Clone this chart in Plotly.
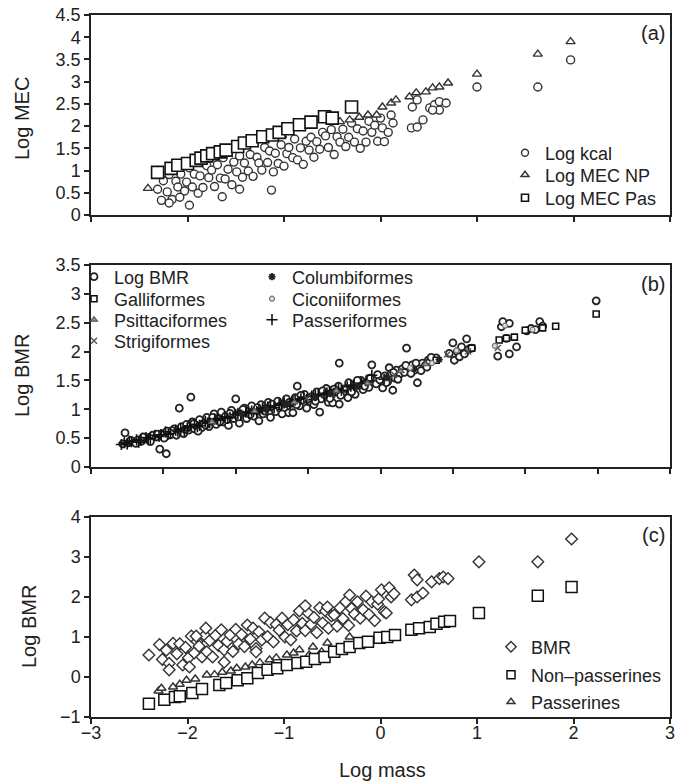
import plotly.graph_objects as go

FONT = "Liberation Sans, Arial, Helvetica, sans-serif"
INK = "#222222"
MARK = "#333333"

# ---------------- panel (a): Log MEC vs log mass ----------------
kcal_x = [-2.31, -2.27, -2.25, -2.21, -2.19, -2.16, -2.12, -2.10, -2.07, -2.03, -2.01, -1.98, -1.95, -1.93,
          -1.89, -1.87, -1.84, -1.80, -1.78, -1.75, -1.72, -1.69, -1.66, -1.63, -1.61, -1.58, -1.54, -1.52,
          -1.49, -1.46, -1.43, -1.41, -1.37, -1.35, -1.32, -1.28, -1.26, -1.23, -1.20, -1.17, -1.15, -1.11,
          -1.09, -1.06, -1.03, -1.00, -0.97, -0.95, -0.91, -0.89, -0.86, -0.83, -0.80, -0.77, -0.74, -0.72,
          -0.69, -0.66, -0.63, -0.60, -0.57, -0.54, -0.51, -0.48, -0.45, -0.42, -0.39, -0.36, -0.33, -0.30,
          -0.27, -0.24, -0.21, -0.18, -0.15, -0.12, -0.09, -0.06, -0.03,
          -2.19, -1.98, -1.64, -1.13, -1.46, -2.08,
          0.00, 0.02, 0.04, 0.08, 0.11, 0.13, 0.32, 0.38, 0.44, 0.33, 0.38, 0.51, 0.56, 0.61, 0.68, 0.61,
          0.54, 1.00, 1.63, 1.97]
kcal_y = [0.58, 0.33, 0.77, 0.52, 0.91, 0.35, 0.76, 0.63, 0.92, 0.54, 0.74, 1.06, 0.63, 0.92,
          0.49, 0.88, 0.62, 1.11, 0.84, 1.01, 0.64, 1.13, 0.83, 1.29, 0.81, 1.03, 0.68, 1.19,
          0.97, 1.33, 0.85, 1.17, 0.99, 1.36, 0.87, 1.30, 1.17, 1.01, 1.52, 1.18, 1.44, 0.97,
          1.39, 1.16, 1.58, 1.10, 1.38, 1.52, 1.29, 1.71, 1.24, 1.51, 1.14, 1.66, 1.46, 1.75,
          1.30, 1.65, 1.48, 1.86, 1.78, 1.52, 1.92, 1.36, 1.76, 1.64, 1.93, 1.54, 1.75, 2.07,
          1.64, 1.94, 1.50, 1.89, 1.64, 2.11, 1.86, 2.02, 1.66,
          0.27, 0.22, 0.41, 0.56, 0.58, 0.40,
          2.18, 1.96, 1.65, 1.86, 2.25, 2.07, 1.96, 1.98, 2.14, 2.43, 2.59, 2.41, 2.48, 2.55, 2.52, 2.36,
          2.36, 2.88, 2.88, 3.49]

mec_np_x = [-2.41, -2.05, -1.52, -1.02, -0.42, -0.32, -0.22, -0.13, -0.04, 0.02, 0.11, 0.16, 0.30, 0.37,
            0.47, 0.54, 0.61, 0.70, 1.00, 1.63, 1.97]
mec_np_y = [0.60, 1.12, 1.47, 1.79, 2.10, 2.14, 2.20, 2.25, 2.25, 2.43, 2.52, 2.59, 2.66, 2.75,
            2.77, 2.86, 2.88, 2.97, 3.17, 3.62, 3.90]

mec_pas_x = [-2.31, -2.17, -2.10, -2.00, -1.91, -1.86, -1.80, -1.74, -1.66, -1.60, -1.48, -1.41, -1.33,
             -1.22, -1.12, -1.05, -0.96, -0.84, -0.72, -0.58, -0.50, -0.30]
mec_pas_y = [0.96, 1.05, 1.12, 1.16, 1.23, 1.28, 1.33, 1.38, 1.42, 1.46, 1.54, 1.62, 1.67,
             1.76, 1.80, 1.86, 1.94, 2.03, 2.09, 2.21, 2.18, 2.43]

# ---------------- panel (b): Log BMR by order ----------------
bmr_x = [-3.56, -3.53, -3.48, -3.40, -3.35, -3.30, -3.25, -3.20, -3.15, -3.10, -3.05, -3.02, -2.96, -2.95,
         -2.90, -2.85, -2.80, -2.78, -2.75, -2.72, -2.68, -2.65, -2.62, -2.60, -2.57, -2.55, -2.50, -2.47,
         -2.44, -2.40, -2.37, -2.34, -2.30, -2.27, -2.24, -2.20, -2.17, -2.14, -2.10, -2.06, -2.03, -2.00,
         -1.98, -1.95, -1.92, -1.88, -1.85, -1.82, -1.78, -1.75, -1.72, -1.68, -1.65, -1.62, -1.58, -1.55,
         -1.52, -1.48, -1.45, -1.42, -1.38, -1.35, -1.33, -1.30, -1.27, -1.24, -1.21, -1.18, -1.15, -1.12,
         -1.08, -1.05, -1.02, -0.98, -0.95, -0.92, -0.88, -0.84, -0.82, -0.78, -0.75, -0.72, -0.68, -0.66,
         -0.62, -0.58, -0.57, -0.57, -0.52, -0.48, -0.45, -0.42, -0.38, -0.35, -0.30, -0.27, -0.24, -0.20,
         -0.16, -0.12, -0.10, -0.06, -0.01, 0.03, 0.06, 0.10, 0.12, 0.15, 0.17, 0.20, 0.22, 0.26, 0.30,
         0.33, 0.36, 0.40, 0.44, 0.47, 0.51, 0.54, 0.58, 0.62, 0.66, 0.68, 0.72, 0.77, 0.95, 1.00, 1.02,
         1.06, 1.09, 1.12, 1.16, 1.19, 1.22, 1.26, 1.62, 1.67, 1.69, 1.74, 1.78, 1.78, 1.88, 2.02, 2.08,
         2.14, 2.20, 2.24, 2.98,
         -3.45, -3.38, -3.28, -3.18, -3.08, -2.99, -2.88, -2.82, -2.70, -2.58, -2.52, -2.42, -2.32, -2.22,
         -2.12, -2.08, -1.96, -1.90, -1.80, -1.70, -1.60, -1.50, -1.40, -1.36, -1.26, -1.16, -1.10, -1.00,
         -0.90, -0.80, -0.70, -0.64, -0.55, -0.44, -0.40, -0.32, -0.22, -0.14, -0.04, 0.08, 0.18, 0.24,
         0.35, 0.42, 0.49, 0.56, 0.64, 0.70]
bmr_y = [0.40, 0.59, 0.42, 0.44, 0.47, 0.45, 0.50, 0.48, 0.55, 0.52, 0.31, 0.58, 0.23, 0.62,
         0.56, 0.66, 0.60, 1.02, 0.70, 0.58, 0.74, 0.64, 1.21, 0.78, 0.66, 0.72, 0.82, 0.68,
         0.76, 0.86, 0.70, 0.80, 0.92, 0.74, 0.84, 0.95, 0.78, 0.88, 0.72, 0.98, 0.84, 1.18,
         0.90, 0.76, 0.94, 1.02, 0.84, 0.96, 1.06, 0.88, 0.98, 0.80, 1.08, 0.92, 1.02, 1.12,
         0.86, 1.04, 0.96, 1.14, 1.00, 1.08, 1.00, 1.18, 0.94, 1.10, 0.94, 1.20, 1.40, 1.06,
         1.16, 1.26, 1.02, 1.14, 1.22, 1.08, 1.30, 0.95, 1.18, 1.26, 1.36, 1.12, 1.24, 1.11,
         1.30, 1.40, 1.80, 1.09, 1.28, 1.36, 1.20, 1.44, 1.32, 1.26, 1.42, 1.50, 1.34, 1.46,
         1.38, 1.77, 1.52, 1.44, 1.51, 1.37, 1.58, 1.48, 1.72, 1.62, 1.33, 1.54, 1.68, 1.60, 1.70,
         1.64, 2.06, 1.74, 1.77, 1.68, 1.46, 1.72, 1.80, 1.76, 1.85, 1.82, 1.88, 1.89, 1.97, 2.15, 1.85,
         2.00, 1.91, 2.08, 1.96, 2.22, 2.04, 2.06, 1.92, 2.43, 2.52, 2.23, 2.49, 1.96, 2.08, 2.36, 2.40,
         2.38, 2.52, 2.44, 2.88,
         0.46, 0.41, 0.52, 0.44, 0.57, 0.50, 0.63, 0.55, 0.65, 0.75, 0.62, 0.73, 0.86, 0.78,
         0.82, 0.93, 0.87, 1.00, 0.91, 1.03, 0.97, 1.09, 1.05, 0.92, 1.12, 1.08, 1.24, 1.18,
         1.14, 1.32, 1.19, 1.35, 1.24, 1.46, 1.30, 1.50, 1.40, 1.54, 1.60, 1.46, 1.64, 1.52,
         1.76, 1.62, 1.80, 1.67, 1.73, 1.90]

galli_x = [0.77, 1.26, 1.64, 1.74, 1.85, 2.00, 2.24, 2.42, 2.98]
galli_y = [1.85, 2.06, 2.20, 2.23, 2.25, 2.37, 2.41, 2.44, 2.65]

psitta_x = [-2.33, -1.74, -1.19, -0.61, -0.18, 0.28, 0.62]
psitta_y = [0.78, 0.97, 1.12, 1.32, 1.45, 1.66, 1.78]

strigi_x = [-1.02, 0.19, 0.92, 1.21, 1.62]
strigi_y = [1.19, 1.60, 1.95, 2.00, 2.06]

columbi_x = [-1.92, -1.58, -1.31, -0.91, -0.69, -0.31, 0.08, 0.46, 0.81]
columbi_y = [0.93, 1.00, 1.09, 1.20, 1.27, 1.40, 1.55, 1.70, 1.86]

ciconi_x = [0.41, 0.71, 1.05, 1.58, 1.72, 2.10]
ciconi_y = [1.72, 1.80, 2.02, 2.10, 2.45, 2.38]

passeri_x = [-3.58, -3.54, -3.50, -3.44, -3.37, -3.31, -3.24, -3.18, -3.12, -3.03, -2.97, -2.90, -2.83,
             -2.76, -2.71, -2.63, -2.57, -2.50, -2.42, -2.36, -2.29, -2.21, -2.15, -2.08, -2.00, -1.93,
             -1.86, -1.78, -1.71, -1.63, -1.56, -1.47, -1.40, -1.33, -1.25, -1.18, -1.10, -1.02, -0.95,
             -0.86, -0.78, -0.70, -0.62, -0.54, -0.46, -0.37, -0.26, -0.12, 0.05,
             -3.47, -3.34, -3.21, -3.06, -2.93, -2.80, -2.67, -2.53, -2.39, -2.25, -2.11, -1.97, -1.82,
             -1.68, -1.52, -1.37, -1.21, -1.06, -0.90, -0.74, -0.58, -0.41, -0.20]
passeri_y = [0.39, 0.42, 0.40, 0.44, 0.47, 0.46, 0.51, 0.49, 0.55, 0.56, 0.61, 0.58, 0.64,
             0.66, 0.63, 0.71, 0.74, 0.72, 0.79, 0.77, 0.83, 0.81, 0.87, 0.86, 0.91, 0.90,
             0.95, 0.97, 0.96, 1.02, 1.04, 1.03, 1.09, 1.11, 1.10, 1.16, 1.18, 1.17, 1.23,
             1.26, 1.25, 1.31, 1.34, 1.33, 1.39, 1.42, 1.45, 1.59, 1.52,
             0.45, 0.43, 0.49, 0.53, 0.57, 0.62, 0.68, 0.70, 0.76, 0.84, 0.84, 0.93, 0.93,
             0.99, 1.06, 1.07, 1.14, 1.21, 1.24, 1.28, 1.36, 1.40, 1.49]

# ---------------- panel (c): Log BMR, passerines vs non-passerines ----------------
bmr_c_x = [-2.40, -2.29, -2.26, -2.22, -2.19, -2.15, -2.11, -2.08, -2.05, -2.02, -1.99, -1.96, -1.93, -1.90,
           -1.88, -1.85, -1.82, -1.80, -1.77, -1.74, -1.71, -1.68, -1.65, -1.62, -1.59, -1.56, -1.53,
           -1.50, -1.47, -1.44, -1.41, -1.38, -1.35, -1.32, -1.29, -1.26, -1.23, -1.20, -1.17, -1.14,
           -1.11, -1.08, -1.05, -1.02, -0.99, -0.96, -0.93, -0.90, -0.87, -0.84, -0.81, -0.78, -0.75,
           -0.72, -0.69, -0.66, -0.63, -0.60, -0.57, -0.54, -0.51, -0.48, -0.45, -0.42, -0.39, -0.36,
           -0.33, -0.30, -0.27, -0.24, -0.21, -0.18, -0.15, -0.12, -0.09, -0.06, -0.03,
           -1.81, -1.91, -1.98, -1.62, -2.19, -1.29, -0.78, -0.55, -0.32,
           0.01, 0.09, 0.04, 0.11, 0.06, -0.02, 0.14, 0.32, 0.35, 0.38, 0.38, 0.44, 0.53, 0.61, 0.65, 0.70,
           1.02, 1.63, 1.98]
bmr_c_y = [0.55, 0.81, 0.44, 0.67, 0.34, 0.84, 0.58, 0.83, 0.30, 0.74, 0.48, 1.02, 0.60, 0.89,
           0.77, 0.50, 1.04, 0.63, 0.91, 0.50, 1.04, 0.79, 1.18, 0.68, 0.89, 1.05, 0.64,
           1.19, 0.83, 1.06, 0.76, 1.30, 0.95, 1.22, 0.71, 1.13, 0.93, 1.47, 1.01, 1.36,
           0.88, 1.31, 1.17, 1.47, 1.00, 1.31, 0.93, 1.43, 1.15, 1.65, 1.34, 1.16, 1.60,
           1.32, 1.49, 1.11, 1.73, 1.35, 1.65, 1.22, 1.53, 1.55, 1.27, 1.73, 1.46, 1.88,
           1.29, 1.71, 1.57, 1.88, 1.47, 1.68, 2.02, 1.56, 1.88, 1.41, 1.82,
           1.22, 1.02, 0.25, 0.37, 0.18, 0.63, 1.78, 1.75, 2.05,
           2.18, 2.23, 1.63, 2.00, 1.60, 1.95, 2.08, 1.93, 2.55, 2.43, 2.00, 2.10, 2.38, 2.46, 2.50, 2.46,
           2.88, 2.88, 3.45]

nonpas_x = [-2.40, -2.24, -2.13, -2.08, -1.95, -1.85, -1.67, -1.60, -1.48, -1.38, -1.27, -1.17, -1.07,
            -0.97, -0.86, -0.77, -0.68, -0.58, -0.48, -0.40, -0.32, -0.22, -0.13, -0.01, 0.07, 0.15,
            0.32, 0.40, 0.51, 0.58, 0.66, 0.72, 1.02, 1.63, 1.98]
nonpas_y = [-0.67, -0.57, -0.50, -0.48, -0.40, -0.30, -0.20, -0.15, -0.08, -0.03, 0.10, 0.18, 0.22,
            0.30, 0.35, 0.38, 0.45, 0.50, 0.63, 0.70, 0.75, 0.85, 0.88, 0.98, 1.00, 1.05,
            1.18, 1.22, 1.25, 1.33, 1.38, 1.40, 1.60, 2.03, 2.25]

pas_x = [-2.30, -2.27, -2.15, -2.08, -2.01, -1.92, -1.80, -1.72, -1.64, -1.55, -1.49, -1.40, -1.33,
         -1.25, -1.15, -1.08, -0.97, -0.90, -0.84, -0.74, -0.70, -0.61, -0.55, -0.32]
pas_y = [-0.35, -0.28, -0.25, -0.18, -0.08, -0.05, 0.05, 0.06, 0.12, 0.15, 0.22, 0.25, 0.30,
         0.36, 0.43, 0.48, 0.55, 0.60, 0.68, 0.55, 0.75, 0.63, 0.85, 1.00]

# ---------------- layout geometry (pixels in the 675 x 782 page) ----------------
W, H = 675, 782
ML, MR, MT, MB = 91, 5, 15, 65
PW, PH = W - ML - MR, H - MT - MB


def fx(px):
    return (px - ML) / PW


def fy(py):
    return (717 - py) / PH


def mk(symbol, size, width=1.4, color=MARK, fill="white"):
    return dict(symbol=symbol, size=size, color=fill, line=dict(color=color, width=width))


def mk_thin(symbol, size, width, color):
    return dict(symbol=symbol, size=size, color=color, line=dict(color=color, width=width))


fig = go.Figure()

# panel (a)
fig.add_trace(go.Scatter(x=kcal_x, y=kcal_y, mode="markers", marker=mk("circle", 8, 1.4),
                         xaxis="x", yaxis="y", showlegend=False))
fig.add_trace(go.Scatter(x=mec_np_x, y=mec_np_y, mode="markers", marker=mk("triangle-up", 8, 1.4),
                         xaxis="x", yaxis="y", showlegend=False))
fig.add_trace(go.Scatter(x=mec_pas_x, y=mec_pas_y, mode="markers", marker=mk("square", 12, 1.6, "#111"),
                         xaxis="x", yaxis="y", showlegend=False))
for name, m, lg in [("Log kcal", mk("circle", 7, 1.4), "legend"),
                    ("Log MEC NP", mk("triangle-up", 7, 1.4), "legend2"),
                    ("Log MEC Pas", mk("square", 7, 1.6, "#111"), "legend3")]:
    fig.add_trace(go.Scatter(x=[None], y=[None], mode="markers", marker=m, name=name,
                             legend=lg, xaxis="x", yaxis="y"))

# panel (b)
fig.add_trace(go.Scatter(x=bmr_x, y=bmr_y, mode="markers", name="Log BMR", legend="legend4",
                         marker=mk("circle", 7, 1.8, "#222"), xaxis="x2", yaxis="y2"))
fig.add_trace(go.Scatter(x=passeri_x, y=passeri_y, mode="markers", name="Passeriformes", legend="legend10",
                         marker=mk_thin("cross-thin", 8, 1.6, "#111"), xaxis="x2", yaxis="y2"))
fig.add_trace(go.Scatter(x=galli_x, y=galli_y, mode="markers", name="Galliformes", legend="legend5",
                         marker=mk("square", 6, 1.6, "#111"), xaxis="x2", yaxis="y2"))
fig.add_trace(go.Scatter(x=psitta_x, y=psitta_y, mode="markers", name="Psittaciformes", legend="legend6",
                         marker=mk("triangle-up", 6, 1.2, "#555", "#999"), xaxis="x2", yaxis="y2"))
fig.add_trace(go.Scatter(x=strigi_x, y=strigi_y, mode="markers", name="Strigiformes", legend="legend7",
                         marker=mk_thin("x-thin", 6, 1.4, "#555"), xaxis="x2", yaxis="y2"))
fig.add_trace(go.Scatter(x=columbi_x, y=columbi_y, mode="markers", name="Columbiformes", legend="legend8",
                         marker=mk_thin("asterisk", 6, 1.8, "#222"), xaxis="x2", yaxis="y2"))
fig.add_trace(go.Scatter(x=ciconi_x, y=ciconi_y, mode="markers", name="Ciconiiformes", legend="legend9",
                         marker=mk("circle", 5, 1.2, "#777", "#ddd"), xaxis="x2", yaxis="y2"))

# panel (c)
fig.add_trace(go.Scatter(x=bmr_c_x, y=bmr_c_y, mode="markers", marker=mk("diamond", 9, 1.4),
                         xaxis="x3", yaxis="y3", showlegend=False))
fig.add_trace(go.Scatter(x=pas_x, y=pas_y, mode="markers", marker=mk("triangle-up", 8, 1.4),
                         xaxis="x3", yaxis="y3", showlegend=False))
fig.add_trace(go.Scatter(x=nonpas_x, y=nonpas_y, mode="markers", marker=mk("square", 11, 1.5, "#111"),
                         xaxis="x3", yaxis="y3", showlegend=False))
for name, m, lg in [("BMR", mk("diamond", 8, 1.4), "legend11"),
                    ("Non\u2013passerines", mk("square", 8, 1.5, "#111"), "legend12"),
                    ("Passerines", mk("triangle-up", 7, 1.4), "legend13")]:
    fig.add_trace(go.Scatter(x=[None], y=[None], mode="markers", marker=m, name=name,
                             legend=lg, xaxis="x3", yaxis="y3"))

axis = dict(showline=True, linecolor=INK, linewidth=1.5, mirror=True, ticks="outside", ticklen=5,
            tickwidth=1.5, tickcolor=INK, showgrid=False, zeroline=False, automargin=False,
            tickfont=dict(size=18, color=INK, family=FONT))

legend_base = dict(xanchor="left", yanchor="middle", bgcolor="rgba(0,0,0,0)", borderwidth=0,
                   font=dict(size=18, color=INK, family=FONT), itemwidth=30)
# (text-start x, row centre y) pixel anchors of each legend row
legend_spots = {
    "legend": (543, 153), "legend2": (543, 175), "legend3": (543, 198),
    "legend4": (112, 277), "legend5": (112, 299), "legend6": (112, 320), "legend7": (112, 341),
    "legend8": (290, 277), "legend9": (290, 299), "legend10": (290, 320),
    "legend11": (529, 647), "legend12": (529, 675), "legend13": (529, 702),
}
legends = {k: dict(legend_base, x=fx(px - 38), y=fy(py)) for k, (px, py) in legend_spots.items()}

# axis titles and panel tags as annotations: (text, x px, y px, angle)
labels = [
    ("Log MEC", 22, 119, -90), ("Log BMR", 22, 376, -90), ("Log BMR", 29, 627, -90),
    ("Log mass", 382, 770, 0),
    ("(a)", 667, 33, 0), ("(b)", 667, 284, 0), ("(c)", 667, 535, 0),
]
annotations = []
for text, px, py, ang in labels:
    annotations.append(dict(text=text, x=fx(px), y=fy(py), xref="paper", yref="paper",
                            xanchor="right" if text.startswith("(") else "center", yanchor="middle",
                            textangle=ang, showarrow=False, font=dict(size=20, color=INK, family=FONT)))

fig.update_layout(
    width=W, height=H,
    margin=dict(l=ML, r=MR, t=MT, b=MB),
    paper_bgcolor="white", plot_bgcolor="white",
    font=dict(family=FONT, color=INK),
    xaxis=dict(axis, domain=[0, 1], range=[-3, 3], dtick=1, showticklabels=False, anchor="y"),
    yaxis=dict(axis, domain=[fy(215), 1], range=[0, 4.5], dtick=0.5, anchor="x"),
    xaxis2=dict(axis, domain=[0, 1], range=[-4, 4], dtick=1, showticklabels=False, anchor="y2"),
    yaxis2=dict(axis, domain=[fy(467), fy(265)], range=[0, 3.5], dtick=0.5, anchor="x2"),
    xaxis3=dict(axis, domain=[0, 1], range=[-3, 3], dtick=1, anchor="y3", ticklabelstandoff=-6,
                ticklabeloverflow="allow"),
    yaxis3=dict(axis, domain=[0, fy(517)], range=[-1, 4], dtick=1, anchor="x3"),
    annotations=annotations,
    **legends,
)

# the page's default 8px body margin would shift the fixed-size figure
fig.write_html("out.html", config={"displayModeBar": False},
               post_script="document.body.style.margin='0';")
